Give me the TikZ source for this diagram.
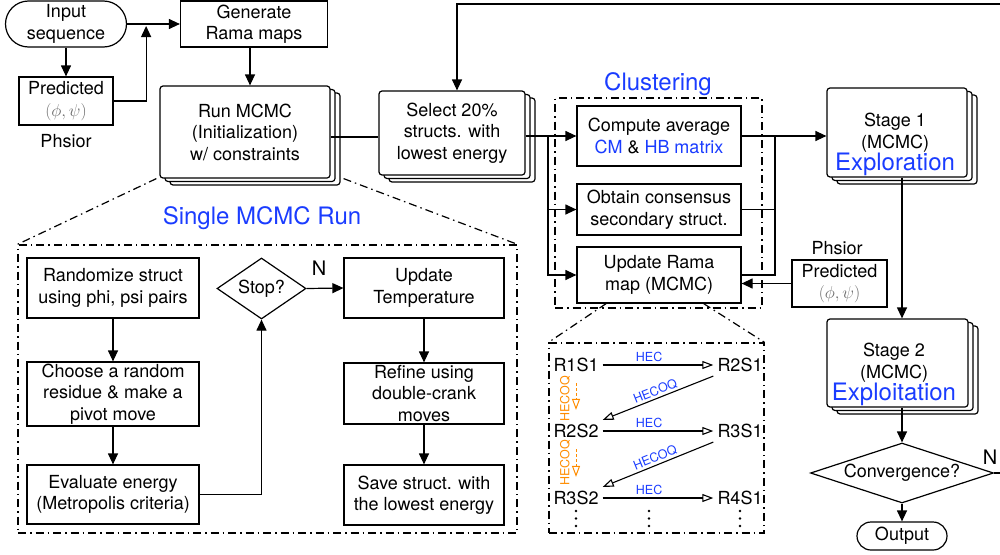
\documentclass[tikz,border=0pt]{standalone}
\usepackage{fontspec}
\setmainfont{TeX Gyre Heros}
\usetikzlibrary{arrows.meta,shapes.geometric,shadows,calc}
\definecolor{blueT}{RGB}{26,60,255}
\definecolor{orangeT}{RGB}{255,140,0}
\definecolor{grayT}{RGB}{105,105,105}
\begin{document}
\begin{tikzpicture}[x=1pt,y=-1pt,
  every node/.style={font=\fontsize{18}{21.5}\selectfont, inner sep=0pt},
  lw/.style={line width=1.2pt},
  box/.style={draw, line width=1.2pt, align=center, fill=white},
  stackbox/.style={box, rounded corners=3pt,
    double copy shadow={shadow xshift=5pt, shadow yshift=-3.5pt, fill=white, draw=black, line width=1.2pt}},
  arr/.style={line width=1.2pt, -{Triangle[length=11pt,width=10pt]}},
  oarr/.style={line width=1.1pt, -{Triangle[open,length=11pt,width=8pt]}},
  dashdot/.style={line width=1.2pt, dash pattern=on 8pt off 4pt on 1.5pt off 4pt},
  big/.style={font=\fontsize{24}{28}\selectfont, text=blueT},
  small/.style={font=\fontsize{12.5}{14}\selectfont},
  nlabel/.style={font=\fontsize{20}{24}\selectfont},
  chain/.style={inner sep=4pt},
]
\useasboundingbox (0,0) rectangle (1000,554);

% ---------- top-left ----------
\node[box, rounded corners=23pt, minimum width=121pt, minimum height=46pt] (inp) at (66,24) {Input\\sequence};
\node[box, minimum width=94pt, minimum height=48pt] (pred1) at (66,101) {Predicted\\\textcolor{grayT}{$(\phi,\psi)$}};
\node (phs1) at (66,141) {Phsior};
\node[box, minimum width=147pt, minimum height=46pt] (gen) at (254,24) {Generate\\Rama maps};
\node[stackbox, minimum width=170pt, minimum height=92pt] (run) at (245,132) {Run MCMC\\(Initialization)\\w/ constraints};
\node[stackbox, minimum width=146pt, minimum height=84pt] (sel) at (452,133) {Select 20\%\\structs. with\\lowest energy};

\coordinate (j1) at ($(inp.east)!0.36!(gen.west)$);
\draw[arr] (inp.east) -- (gen.west);
\draw[arr] (inp.south) -- (pred1.north);
\draw[arr] (pred1.east) -| ($(j1)+(0,2)$);
\coordinate (g1) at ($(gen.south)+(-4,0)$);
\draw[arr] (g1) -- (g1 |- run.north);
\coordinate (r1) at ($(run.east)+(0,5)$);
\draw[lw] (r1) -- (r1 -| sel.west);

% ---------- clustering ----------
\node[big] (clt) at (658,84) {Clustering};
\node[draw, dashdot, minimum width=207pt, minimum height=210pt] (clbox) at (658.5,203) {};
\node[box, minimum width=164pt, minimum height=60pt] (comp) at (659,136) {Compute average\\\textcolor{blueT}{CM} \& \textcolor{blueT}{HB matrix}};
\node[box, minimum width=164pt, minimum height=51pt] (obt) at (659,209.5) {Obtain consensus\\secondary struct.};
\node[box, minimum width=164pt, minimum height=56pt] (upd) at (659,275) {Update Rama\\map (MCMC)};

\coordinate (b1) at (548,136);
\draw[arr] ($(sel.east)+(0,3)$) -- (comp.west);
\draw[arr] (b1) |- (obt.west);
\draw[arr] (b1) |- (upd.west);

% ---------- stages ----------
\node[stackbox, minimum width=140pt, minimum height=89pt] (st1) at (897,132.5) {};
\node[anchor=base] (st1a) at (895,126) {Stage 1};
\node[anchor=base] (st1b) at (895,148) {(MCMC)};
\node[big, anchor=base] (st1c) at (895,170) {Exploration};

\node[stackbox, minimum width=141pt, minimum height=88pt] (st2) at (897.5,363) {};
\node[anchor=base] (st2a) at (894,356) {Stage 2};
\node[anchor=base] (st2b) at (894,378) {(MCMC)};
\node[big, anchor=base] (st2c) at (894,400) {Exploitation};

\node[box, minimum width=95pt, minimum height=47pt] (pred2) at (839.5,283.5) {Predicted\\\textcolor{grayT}{$(\phi,\psi)$}};
\node (phs2) at (837,248) {Phsior};

\node[draw, lw, diamond, minimum width=183pt, minimum height=60pt, label=center:{Convergence?}] (conv) at (902,473) {};
\node[nlabel] (n2) at (990,457) {N};
\node[box, rounded corners=14pt, minimum width=90pt, minimum height=28pt] (out) at (902,536) {Output};

\coordinate (b2) at (775,136);
\draw[arr] (comp.east) -- (comp.east -| st1.west);
\draw[lw] (obt.east) -| (b2);
\draw[lw] (upd.east) -| (b2);
\draw[arr] (pred2.west) -- (pred2.west -| upd.east);

\coordinate (sx) at ($(st1.south)+(5,0)$);
\draw[arr] (sx) -- (sx |- st2.north);
\draw[arr] (st2.south -| conv.north) -- (conv.north);
\draw[arr] (conv.south) -- (out.north);
\coordinate (e1) at (1000,473);
\draw[lw] (conv.east) -- (e1);
\coordinate (e2) at (1000,4);
\coordinate (selin) at ($(sel.north)+(5,0)$);
\draw[arr] (e2) -| (selin);

% ---------- single MCMC run ----------
\node[big] (smr) at (262,218) {Single MCMC Run};
\node[draw, dashdot, minimum width=499pt, minimum height=288pt] (sbox) at (267.5,389) {};
\draw[dashdot] ($(run.south west)+(-3,0)$) -- (sbox.north west);
\draw[dashdot] ($(run.south east)+(13,0)$) -- (sbox.north east);

\node[box, minimum width=172pt, minimum height=60pt] (rnd) at (113,288) {Randomize struct\\using phi, psi pairs};
\node[box, minimum width=172pt, minimum height=64pt] (cho) at (113,394) {Choose a random\\residue \& make a\\pivot move};
\node[box, minimum width=172pt, minimum height=59pt] (eva) at (113,494.5) {Evaluate energy\\(Metropolis criteria)};
\node[draw, lw, diamond, minimum width=89pt, minimum height=61pt, label=center:{Stop?}] (stop) at (261.5,288.5) {};
\node[nlabel] (n1) at (319,268) {N};
\node[box, minimum width=160pt, minimum height=60pt] (ut) at (424,288) {Update\\Temperature};
\node[box, minimum width=160pt, minimum height=61pt] (ref) at (424,393.5) {Refine using\\double-crank\\moves};
\node[box, minimum width=160pt, minimum height=60pt] (sav) at (424,495) {Save struct. with\\the lowest energy};

\draw[arr] (rnd) -- (cho);
\draw[arr] (cho) -- (eva);
\draw[arr] (eva.east) -| (stop.south);
\draw[arr] (stop.east) -- (ut.west);
\draw[arr] (ut) -- (ref);
\draw[arr] (ref) -- (sav);

% ---------- replica chain ----------
\node[draw, dashdot, minimum width=215pt, minimum height=190pt] (cbox) at (656.5,438) {};
\draw[dashdot] ($(upd.south west)!0.18!(upd.south east)$) -- (cbox.north west);
\draw[dashdot] ($(upd.south west)!0.77!(upd.south east)$) -- (cbox.north east);

\node[chain] (r1s1) at (576,365) {R1S1};
\node[chain] (r2s1) at (740,365) {R2S1};
\node[chain] (r2s2) at (576,431) {R2S2};
\node[chain] (r3s1) at (740,431) {R3S1};
\node[chain] (r3s2) at (576,498) {R3S2};
\node[chain] (r4s1) at (740,498) {R4S1};

\draw[oarr] (r1s1) -- node[small, text=blueT, above=3pt, pos=0.42] {HEC} (r2s1);
\draw[oarr] (r2s2) -- node[small, text=blueT, above=3pt, pos=0.42] {HEC} (r3s1);
\draw[oarr] (r3s2) -- node[small, text=blueT, above=3pt, pos=0.42] {HEC} (r4s1);
\draw[oarr] (r2s1.south west) -- node[small, text=blueT, sloped, above=2pt] {HECOQ} (r2s2.north east);
\draw[oarr] (r3s1.south west) -- node[small, text=blueT, sloped, above=2pt] {HECOQ} (r3s2.north east);

\draw[oarr, draw=orangeT, line width=1pt, dash pattern=on 3pt off 2pt] ($(r1s1.south)+(0,7)$) -- ($(r2s2.north)+(0,-10)$);
\draw[oarr, draw=orangeT, line width=1pt, dash pattern=on 3pt off 2pt] ($(r2s2.south)+(0,7)$) -- ($(r3s2.north)+(0,-10)$);
\node[small, text=orangeT, rotate=90] (o1) at (565,399) {HECOQ};
\node[small, text=orangeT, rotate=90] (o2) at (565,463) {HECOQ};

\foreach \x in {576,649,740}
  \foreach \y in {511,518.5,526}
    \fill (\x,\y) circle (1.4pt);
\end{tikzpicture}
\end{document}
